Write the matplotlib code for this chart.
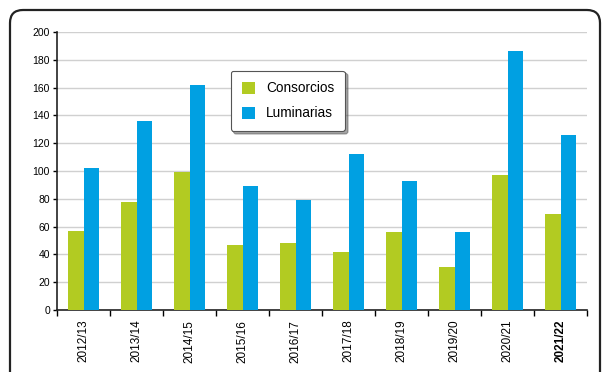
import matplotlib
import numpy as np
from matplotlib import pyplot as plt
from matplotlib.patches import PathPatch
from matplotlib.path import Path

matplotlib.use('Agg')
plt.rcParams['font.family'] = ['Liberation Sans', 'DejaVu Sans']

seasons = ['2012/13', '2013/14', '2014/15', '2015/16', '2016/17',
           '2017/18', '2018/19', '2019/20', '2020/21', '2021/22']
consorcios = [57, 78, 99, 47, 48, 42, 56, 31, 97, 69]
luminarias = [102, 136, 162, 89, 79, 112, 93, 56, 186, 126]

green = '#B2CB22'
blue = '#00A0E2'

W, H = 603, 372
fig = plt.figure(figsize=(W / 100, H / 100), dpi=100)

# rounded outer frame, open at the bottom (pixel coords, y down)
l, r, t, rad = 10, 600, 10, 13
pts = [(l, H + 60), (l, t + rad), (l, t), (l + rad, t), (r - rad, t), (r, t), (r, t + rad), (r, H + 60)]
codes = [Path.MOVETO, Path.LINETO, Path.CURVE3, Path.CURVE3, Path.LINETO,
         Path.CURVE3, Path.CURVE3, Path.LINETO]
pts = [(px / W, 1 - py / H) for px, py in pts]
fig.add_artist(PathPatch(Path(pts, codes), transform=fig.transFigure, fill=False,
                         edgecolor='#222222', linewidth=1.6, clip_on=False))

ax = fig.add_axes([57 / W, 1 - 310 / H, 530 / W, 278 / H])
x = np.arange(len(seasons))
w = 0.29
ax.bar(x - w / 2, consorcios, w, color=green, label='Consorcios', zorder=3)
ax.bar(x + w / 2, luminarias, w, color=blue, label='Luminarias', zorder=3)

ax.set_xlim(-0.5, len(seasons) - 0.5)
ax.set_ylim(0, 200)
ax.set_yticks(range(0, 201, 20))
ax.tick_params(axis='y', labelsize=7.5, length=3, width=1, pad=2)
ax.yaxis.grid(True, color='#d0d0d0', linewidth=1, zorder=0)

ax.set_xticks(x)
ax.set_xticklabels(seasons, rotation=90, fontsize=8.5)
ax.tick_params(axis='x', length=0, pad=7)
ax.get_xticklabels()[-1].set_fontweight('bold')
ax.set_xticks(np.arange(-0.5, len(seasons)), minor=True)
ax.tick_params(axis='x', which='minor', length=4, width=1)

for s in ['top', 'right']:
    ax.spines[s].set_visible(False)
for s in ['left', 'bottom']:
    ax.spines[s].set_linewidth(1.2)
    ax.spines[s].set_color('#222222')

leg = ax.legend(loc='upper left', bbox_to_anchor=(0.32, 0.876), fontsize=9.8,
                frameon=True, fancybox=True, shadow=True, handlelength=1.0,
                handleheight=1.0, labelspacing=0.8, borderpad=0.8,
                handletextpad=0.8, borderaxespad=0.3, edgecolor='#555555')
leg.get_frame().set_linewidth(0.8)

plt.savefig('out.png', dpi=100)
